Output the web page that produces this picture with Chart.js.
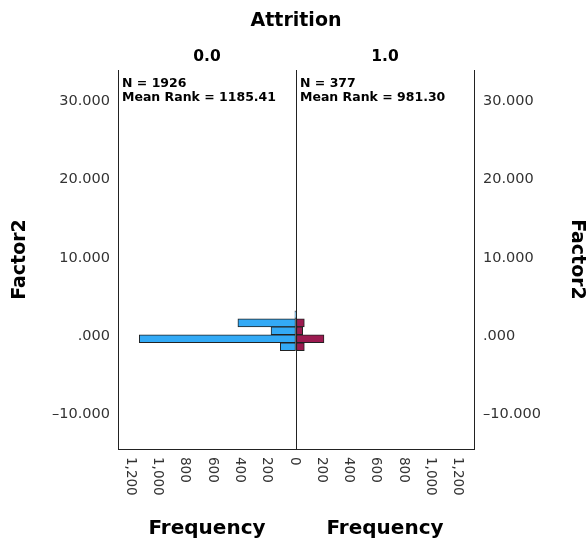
<!DOCTYPE html>
<html>
<head>
<meta charset="utf-8">
<title>Factor2 by Attrition</title>
<script src="https://cdn.jsdelivr.net/npm/chart.js@4.4.1/dist/chart.umd.min.js"></script>
<style>
  html, body { margin: 0; padding: 0; background: #fff; }
  #chart { display: block; }
</style>
</head>
<body>
<canvas id="chart" width="588" height="548"></canvas>
<script>
// Factor2 histogram (bin centres) split by Attrition group
const binCenters = [2.725, 1.71, 0.695, -0.32, -1.335];
const freqStay = [8, 426, 183, 1149, 115];   // Attrition = 0.0
const freqLeave = [0, 61, 49, 205, 61];      // Attrition = 1.0

const groupNames = ['0.0', '1.0'];
const groupN = [1926, 377];
const groupMeanRank = [1185.41, 981.30];

const factorTicks = [-10, 0, 10, 20, 30];
const freqTicks = [0, 200, 400, 600, 800, 1000, 1200];

const FONT = '"DejaVu Sans", sans-serif';
const INK = '#000';
const TICK_INK = '#333';
const LINE = '#222';

function fmtFactor(v) {
  if (v === 0) return '.000';
  return v.toFixed(3).replace('-', '\u2013');
}

// both pyramid halves share one frequency axis: left half is negative
function mirroredFreqTicks() {
  const left = freqTicks.slice(1).reverse().map(v => ({ value: -v }));
  const right = freqTicks.map(v => ({ value: v }));
  return left.concat(right);
}

// headers, N / mean rank boxes, rotated frequency ticks and titles
const pyramidText = {
  id: 'pyramidText',
  afterDraw(chart) {
    const { ctx, chartArea, scales } = chart;
    const x = scales.x;
    const zero = x.getPixelForValue(0);
    const centers = [(chartArea.left + zero) / 2, (zero + chartArea.right) / 2];
    const starts = [chartArea.left, zero];

    ctx.save();
    ctx.fillStyle = INK;
    ctx.textAlign = 'center';
    ctx.textBaseline = 'alphabetic';
    ctx.font = 'bold 19px ' + FONT;
    ctx.fillText('Attrition', (chartArea.left + chartArea.right) / 2, 26);

    ctx.font = 'bold 15.5px ' + FONT;
    groupNames.forEach((g, i) => ctx.fillText(g, centers[i], 61));

    ctx.font = 'bold 20px ' + FONT;
    centers.forEach(c => ctx.fillText('Frequency', c, 534));

    ctx.font = 'bold 12.5px ' + FONT;
    ctx.textAlign = 'left';
    groupN.forEach((n, i) => {
      ctx.fillText('N = ' + n, starts[i] + 4, chartArea.top + 16.5);
      ctx.fillText('Mean Rank = ' + groupMeanRank[i].toFixed(2), starts[i] + 4, chartArea.top + 30.5);
    });

    // tick labels read top-to-bottom under the axis
    ctx.fillStyle = TICK_INK;
    ctx.font = '13.5px ' + FONT;
    ctx.textBaseline = 'middle';
    x.ticks.forEach(t => {
      ctx.save();
      ctx.translate(x.getPixelForValue(t.value) - 2, chartArea.bottom + 8);
      ctx.rotate(Math.PI / 2);
      ctx.fillText(Math.abs(t.value).toLocaleString('en-US'), 0, 0);
      ctx.restore();
    });
    ctx.restore();
  }
};

function factorAxis(position, width, titlePad, tickPad) {
  return {
    type: 'linear',
    position: position,
    offset: false,
    min: -14.4,
    max: 34,
    afterBuildTicks: s => { s.ticks = factorTicks.map(v => ({ value: v })); },
    afterFit: s => { s.width = width; },
    grid: { display: false, drawTicks: false, offset: false },
    border: { color: LINE, width: 1 },
    ticks: {
      padding: tickPad,
      color: TICK_INK,
      font: { family: FONT, size: 14.5 },
      callback: v => fmtFactor(v)
    },
    title: {
      display: true,
      text: 'Factor2',
      color: INK,
      padding: { top: titlePad, bottom: 0 },
      font: { family: FONT, size: 19, weight: 'bold' }
    }
  };
}

new Chart(document.getElementById('chart'), {
  type: 'bar',
  data: {
    datasets: [
      {
        label: groupNames[0],
        data: binCenters.map((y, i) => ({ x: -freqStay[i], y: y })),
        backgroundColor: '#33aaf6'
      },
      {
        label: groupNames[1],
        data: binCenters.map((y, i) => ({ x: freqLeave[i], y: y })),
        backgroundColor: '#9c1a50'
      }
    ]
  },
  options: {
    indexAxis: 'y',
    responsive: false,
    animation: false,
    layout: { padding: { top: 70 } },
    datasets: {
      bar: {
        grouped: false,
        barPercentage: 1,
        categoryPercentage: 1,
        borderColor: LINE,
        borderWidth: 1,
        borderSkipped: false
      }
    },
    plugins: {
      legend: { display: false },
      tooltip: { enabled: false }
    },
    scales: {
      x: {
        type: 'linear',
        min: -1305,
        max: 1305,
        afterBuildTicks: s => { s.ticks = mirroredFreqTicks(); },
        afterFit: s => { s.height = 99; },
        ticks: { display: false },
        grid: {
          drawTicks: false,
          color: c => (c.tick && c.tick.value === 0 ? LINE : 'rgba(0,0,0,0)')
        },
        border: { color: LINE, width: 1 }
      },
      y: factorAxis('left', 118, 9, 8),
      y2: factorAxis('right', 114, 0, 9)
    }
  },
  plugins: [pyramidText]
});
</script>
</body>
</html>
